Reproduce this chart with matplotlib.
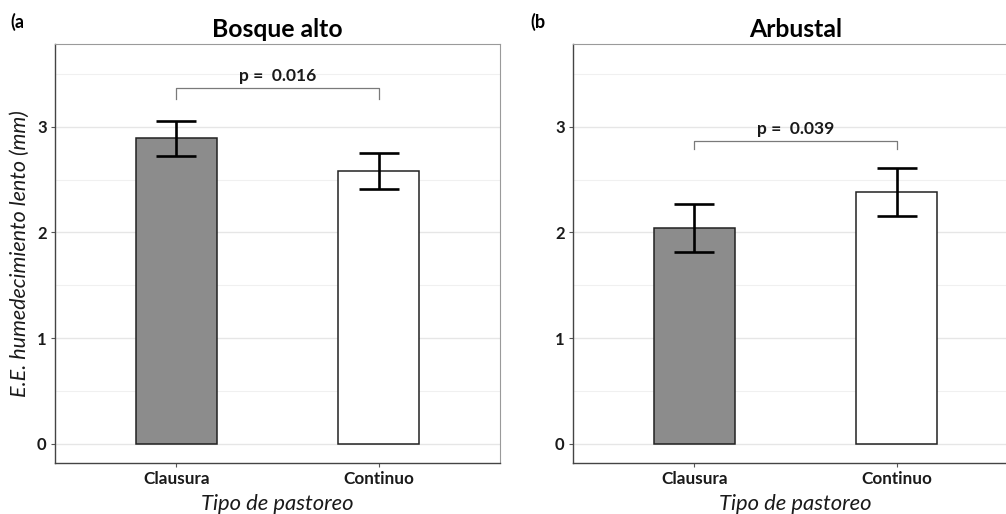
import matplotlib
matplotlib.use("Agg")
import matplotlib.pyplot as plt

plt.rcParams['font.family'] = ['Lato', 'DejaVu Sans']

# data
categories = ["Clausura", "Continuo"]
bosque_mean = [2.89, 2.58]
bosque_se = [0.167, 0.17]
arbustal_mean = [2.04, 2.38]
arbustal_se = [0.229, 0.228]

panel_titles = ["Bosque alto", "Arbustal"]
panel_tags = ["(a", "(b"]
p_labels = ["p =  0.016", "p =  0.039"]
bracket_y = [3.365, 2.867]
bracket_tip = [3.26, 2.785]

bar_colors = ["#8c8c8c", "#ffffff"]
ylim = (-0.18, 3.782)

fig = plt.figure(figsize=(10.06, 5.14), dpi=100)
W, H = 1006, 514


def panel(left_px, means, ses, title, plab, by, btip, ylabel=None):
    ax = fig.add_axes([left_px / W, 1 - 463 / H, 445 / W, (463 - 44) / H])
    x = list(range(len(categories)))
    ax.bar(x, means, width=0.4, color=bar_colors, edgecolor="#222222",
           linewidth=1.1, zorder=3)
    ax.errorbar(x, means, yerr=ses, fmt="none", ecolor="black",
                elinewidth=1.9, capsize=14.4, capthick=1.9, zorder=4)
    # significance bracket
    ax.plot([x[0], x[0], x[1], x[1]], [btip, by, by, btip],
            color="#7a7a7a", lw=0.9, zorder=4)
    ax.text((x[0] + x[1]) / 2, by + 0.04, plab, ha="center", va="bottom",
            fontsize=12.5, fontweight="bold", color="#1a1a1a")

    ax.set_xlim(-0.6, 1.6)
    ax.set_ylim(*ylim)
    ax.set_xticks(x)
    ax.set_xticklabels(categories, fontsize=12.3, fontweight="bold")
    ax.set_yticks([0, 1, 2, 3])
    ax.set_yticklabels(["0", "1", "2", "3"], fontsize=12, fontweight="bold")
    ax.set_yticks([0.5, 1.5, 2.5, 3.5], minor=True)
    ax.tick_params(axis="y", which="minor", length=0)
    ax.tick_params(axis="both", which="major", length=3, width=0.8,
                   color="#555555", labelcolor="#1a1a1a", pad=3)
    ax.grid(axis="y", which="major", color="#e6e6e6", lw=1.0, zorder=0)
    ax.grid(axis="y", which="minor", color="#f0f0f0", lw=0.8, zorder=0)
    ax.set_axisbelow(True)
    for side in ["top", "right"]:
        ax.spines[side].set_color("#9a9a9a")
        ax.spines[side].set_linewidth(0.8)
    for side in ["left", "bottom"]:
        ax.spines[side].set_color("#444444")
        ax.spines[side].set_linewidth(1.0)

    ax.set_title(title, fontsize=17.8, fontweight="bold", pad=5)
    ax.set_xlabel("Tipo de pastoreo", fontsize=15.8, fontstyle="italic",
                  color="#1a1a1a", labelpad=5)
    if ylabel:
        ax.set_ylabel(ylabel, fontsize=15.5, fontstyle="italic",
                      color="#1a1a1a", labelpad=5)
    return ax


panel(55, bosque_mean, bosque_se, panel_titles[0],
      p_labels[0], bracket_y[0], bracket_tip[0],
      ylabel="E.E. humedecimiento lento (mm)")
panel(573, arbustal_mean, arbustal_se, panel_titles[1],
      p_labels[1], bracket_y[1], bracket_tip[1])

fig.text(10 / W, 1 - 22 / H, panel_tags[0], fontsize=13, fontweight="bold",
         ha="left", va="center")
fig.text(530 / W, 1 - 22 / H, panel_tags[1], fontsize=13, fontweight="bold",
         ha="left", va="center")

fig.savefig("out.png", dpi=100)
